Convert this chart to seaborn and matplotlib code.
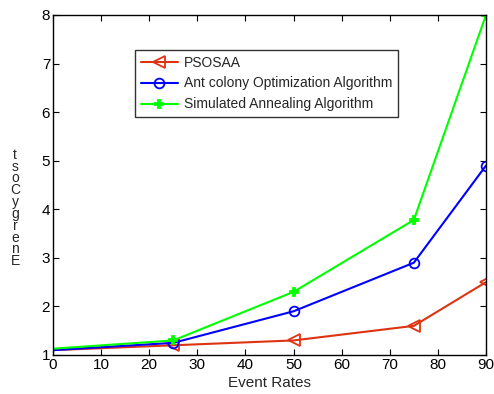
import matplotlib
matplotlib.use("Agg")
import matplotlib.pyplot as plt
import seaborn as sns
import pandas as pd

event_rates = [0, 25, 50, 75, 90]
psosaa = [1.10, 1.20, 1.30, 1.60, 2.50]
aco = [1.10, 1.25, 1.90, 2.90, 4.90]
sa = [1.13, 1.30, 2.30, 3.78, 8.00]
series_names = ["PSOSAA", "Ant colony Optimization Algorithm", "Simulated Annealing Algorithm"]
x_ticks = [0, 10, 20, 30, 40, 50, 60, 70, 80, 90]
y_ticks = [1, 2, 3, 4, 5, 6, 7, 8]

sns.set_theme(style="white")
plt.rcParams['font.family'] = ['Liberation Sans', 'DejaVu Sans']
plt.rcParams['xtick.direction'] = 'in'
plt.rcParams['ytick.direction'] = 'in'

df = pd.DataFrame({
    "x": event_rates * 3,
    "y": psosaa + aco + sa,
    "s": [series_names[0]] * 5 + [series_names[1]] * 5 + [series_names[2]] * 5,
})

fig = plt.figure(figsize=(4.94, 3.94), dpi=100)
ax = fig.add_axes([53/494, 1 - 355/394, (486-53)/494, (355-15)/394])

colors = ["#DD3311", "#0000FF", "#00FF00"]
markers = ["<", "o", "P"]
msizes = [8, 7, 6]
for name, c, m, ms in zip(series_names, colors, markers, msizes):
    sub = df[df["s"] == name]
    sns.lineplot(data=sub, x="x", y="y", ax=ax, color=c, marker=m,
                 markersize=ms, markerfacecolor="none" if m != "P" else c,
                 markeredgecolor=c, markeredgewidth=1.3, linewidth=1.5,
                 markevery=[1, 2, 3, 4], label=name)

ax.set_xlim(0, 90)
ax.set_ylim(1, 8)
ax.set_xticks(x_ticks)
ax.set_yticks(y_ticks)
ax.tick_params(labelsize=11, length=4, width=0.8, colors="black", pad=2,
               top=True, right=True, bottom=True, left=True)
for sp in ax.spines.values():
    sp.set_visible(True)
    sp.set_color("black")
    sp.set_linewidth(1.0)
ax.set_xlabel("Event Rates", fontsize=11, labelpad=3)
ax.set_ylabel("")

# stacked y label (characters written top to bottom in reversed order)
label = "EnergyCost"
stacked = "\n".join(reversed(label))
fig.text(15/494, 1 - 208/394, stacked, fontsize=10, ha="center", va="center",
         linespacing=0.8, multialignment="center")

leg = ax.legend(loc="upper left", bbox_to_anchor=((135-53)/433, (355-50)/340),
                frameon=True, fancybox=False, edgecolor="black", fontsize=10,
                handlelength=2.7, borderpad=0.4, labelspacing=0.5,
                handletextpad=0.4, borderaxespad=0)
leg.get_frame().set_linewidth(1.0)

fig.savefig("out.png", dpi=100)
